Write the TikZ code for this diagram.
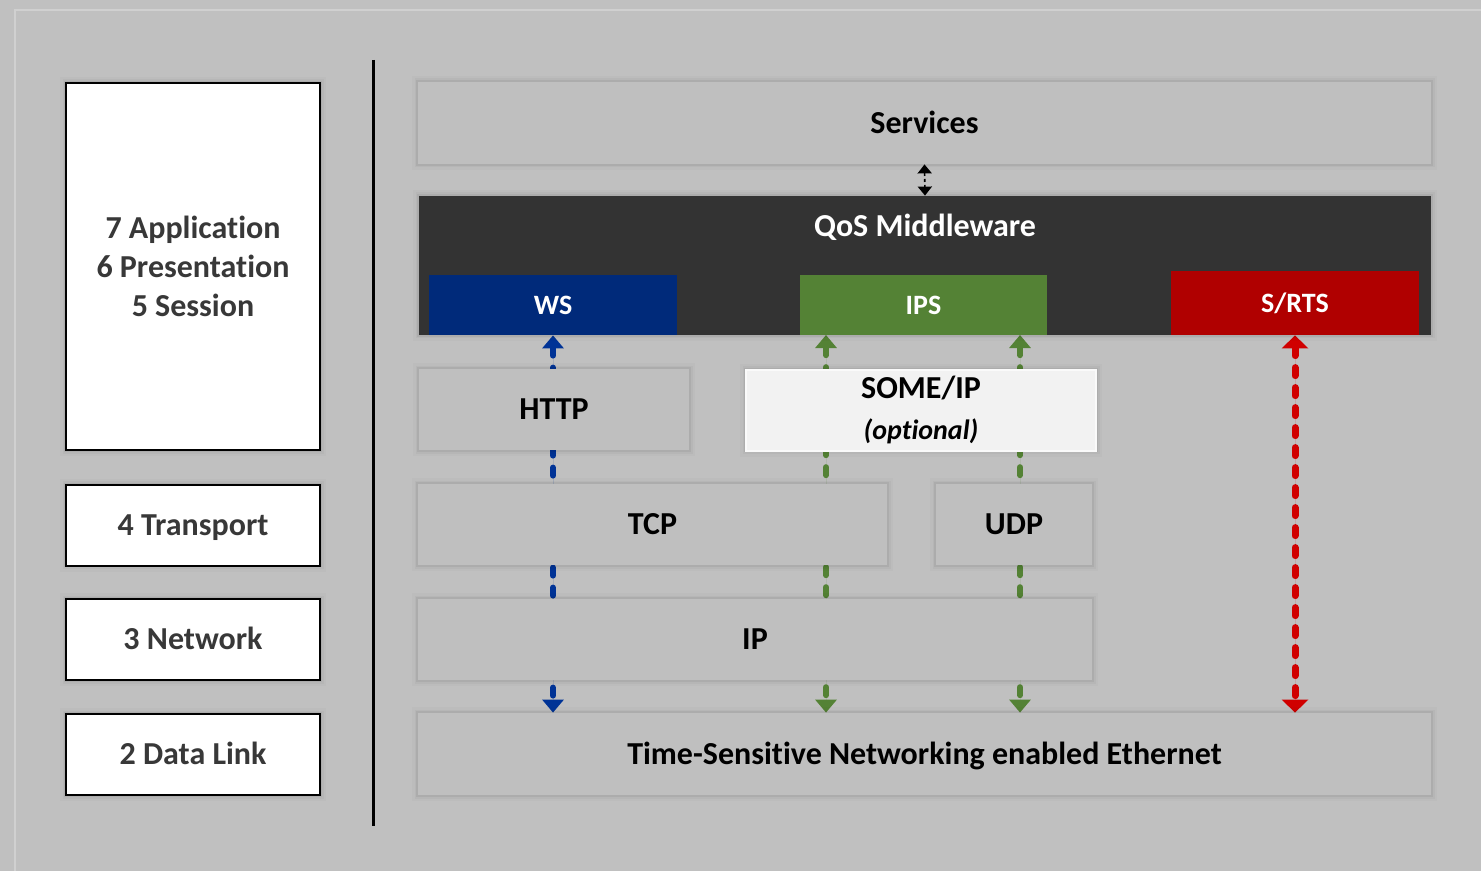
\documentclass[tikz,border=0pt]{standalone}
\usepackage{fontspec}
\setmainfont{Carlito}[Ligatures={NoCommon,NoContextual},RawFeature={-liga;-clig}]
\usetikzlibrary{arrows.meta}

\definecolor{pagegray}{RGB}{192,192,192}
\definecolor{framegray}{RGB}{208,208,208}
\definecolor{boxgray}{RGB}{191,191,191}
\definecolor{somefill}{RGB}{242,242,242}
\definecolor{somedraw}{RGB}{250,250,250}
\definecolor{midgray}{RGB}{51,51,51}
\definecolor{ositext}{RGB}{56,56,56}
\definecolor{wsblue}{RGB}{0,42,122}
\definecolor{ipsgreen}{RGB}{84,130,53}
\definecolor{rtsred}{RGB}{176,0,0}
\definecolor{linkblue}{RGB}{0,51,150}
\definecolor{linkgreen}{RGB}{84,130,53}
\definecolor{linkred}{RGB}{208,0,0}

\pgfdeclarelayer{canvas}
\pgfdeclarelayer{links}
\pgfsetlayers{canvas,links,main}

\tikzset{
  soft shadow/.style={
    preaction={draw=black,draw opacity=0.02,line width=6pt},
    preaction={draw=black,draw opacity=0.03,line width=3.5pt},
    preaction={draw=black,draw opacity=0.05,line width=1.6pt}},
  oneline/.style={text height=11.5pt, text depth=1.3pt},
  osibox/.style={soft shadow, fill=white, draw=black, line width=1pt,
    inner sep=0pt, minimum width=127pt, minimum height=40.5pt,
    text=ositext, align=center},
  layerbox/.style={soft shadow, fill=boxgray, inner sep=0pt, oneline,
    minimum height=40.5pt, text=black},
  tagbox/.style={inner sep=0pt, text=white, font=\bfseries\fontsize{14}{16}\selectfont},
  link/.style={line width=3pt, dash pattern=on 4pt off 6pt, line cap=round,
    {Triangle[width=10.5pt,length=6.5pt]}-{Triangle[width=10.5pt,length=6.5pt]}},
}

\begin{document}
\begin{tikzpicture}[x=0.5pt,y=-0.5pt,font=\bfseries\fontsize{16}{19.5}\selectfont]
\useasboundingbox (0,0) rectangle (1481,871);

\begin{pgfonlayer}{canvas}
  \fill[pagegray] (0,0) rectangle (1481,871);
  \draw[framegray,line width=0.8pt] (1481,10) -- (15,10) -- (15,871);
\end{pgfonlayer}

% OSI reference layers
\node[osibox, minimum height=183.5pt] (osi567) at (193,266.5)
  {7 Application\\6 Presentation\\5 Session};
\node[osibox, oneline] (osi4) at (193,525) {4 Transport};
\node[osibox, oneline] (osi3) at (193,639.5) {3 Network};
\node[osibox, oneline] (osi2) at (193,754.5) {2 Data Link};

% separator
\coordinate (septop) at (373,60);
\coordinate (sepbot) at (373,826);
\draw[black,line width=1.5pt] (septop) -- (sepbot);

% protocol stack
\node[layerbox, minimum width=506.5pt, minimum height=41pt] (services) at (924.5,123) {Services};
\node[soft shadow, fill=midgray, inner sep=0pt, minimum width=506pt, minimum height=69.5pt] (qos) at (925,265.5) {};
\node[text=white] (qostitle) at (925,227) {QoS Middleware};
\node[tagbox, fill=wsblue, minimum width=124pt, minimum height=30pt] (ws) at (553,305) {WS};
\node[tagbox, fill=ipsgreen, minimum width=123.5pt, minimum height=30pt] (ips) at (923.5,305) {IPS};
\node[tagbox, fill=rtsred, minimum width=124pt, minimum height=32pt] (srts) at (1295,303) {S/RTS};

\node[layerbox, minimum width=135pt] (http) at (554,409.5) {HTTP};
\node[soft shadow, fill=somefill, draw=somedraw, line width=1pt, inner sep=0pt,
  minimum width=175pt, minimum height=40.5pt, align=center, text=black,
  font=\bfseries\fontsize{16}{20.5}\selectfont] (someip) at (921,410)
  {SOME/IP\\{\fontsize{14}{16}\selectfont\itshape (optional)}};
\node[layerbox, minimum width=234.5pt] (tcp) at (652.5,524.5) {TCP};
\node[layerbox, minimum width=78pt] (udp) at (1014,524.5) {UDP};
\node[layerbox, minimum width=337pt] (ip) at (755,639.5) {IP};
\node[layerbox, minimum width=506.5pt, minimum height=41pt] (tsn) at (924.5,754)
  {Time-Sensitive Networking enabled Ethernet};

% data paths through the stack (behind the layer boxes)
\coordinate (tcppath) at (826,335);
\coordinate (udppath) at (1020,335);
\begin{pgfonlayer}{links}
  \draw[link, draw=linkblue, fill=linkblue] (ws.south) -- (ws.south |- tsn.north);
  \draw[link, draw=linkgreen, fill=linkgreen] (tcppath) -- (tcppath |- tsn.north);
  \draw[link, draw=linkgreen, fill=linkgreen] (udppath) -- (udppath |- tsn.north);
  \draw[link, draw=linkred, fill=linkred, line width=3.5pt, dash pattern=on 4pt off 6pt,
    {Triangle[width=13pt,length=6.5pt]}-{Triangle[width=13pt,length=6.5pt]}]
    (srts.south) -- (srts.south |- tsn.north);
\end{pgfonlayer}
\draw[black, line width=0.8pt, dash pattern=on 1.5pt off 1.5pt,
  {Triangle[width=7pt,length=4.5pt]}-{Triangle[width=7pt,length=4.5pt]}]
  (services.south) -- (qos.north);
\end{tikzpicture}
\end{document}
